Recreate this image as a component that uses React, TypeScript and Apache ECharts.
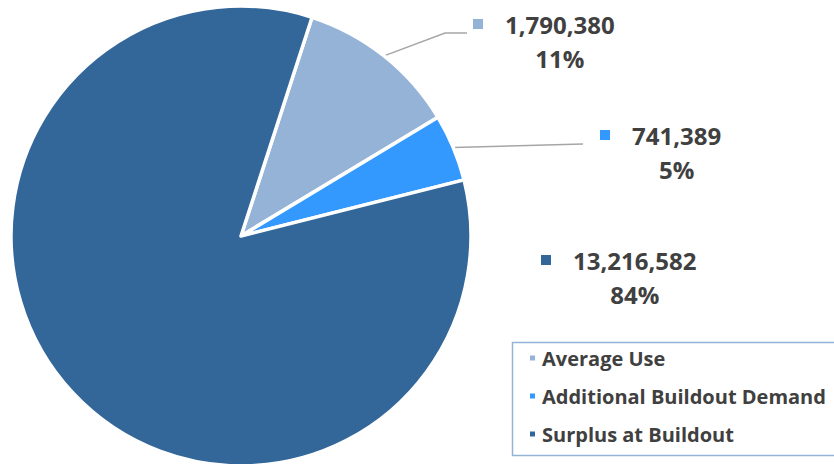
import React, { useEffect, useRef } from "react";
import * as echarts from "echarts";

const categories = ["Average Use", "Additional Buildout Demand", "Surplus at Buildout"];
const values = [1790380, 741389, 13216582];
const colors = ["#95B3D7", "#3399FF", "#336699"];

const FONT = '"Open Sans", "Noto Sans", sans-serif';
const TEXT = "#404040";

// label block placement (left / top of each label block) and leader-line ends
const labelPlacement = [
  { x: 473, y: 7, endDx: -6, endDy: 26, elbowDx: -22 },
  { x: 600, y: 118, endDx: -17, endDy: 26, elbowDx: 0 },
  { x: 541, y: 243, endDx: 0, endDy: 0, elbowDx: 0 },
];

export default function App() {
  const ref = useRef<HTMLDivElement>(null);
  useEffect(() => {
    if (!ref.current) return;
    const chart = echarts.init(ref.current, null, { renderer: "svg" });
    const rich: any = {
      s: { width: 22, align: "center" },
      s2: { width: 32, align: "center" },
      v: { fontSize: 24, fontWeight: "bold", color: TEXT, fontFamily: FONT, lineHeight: 34, align: "center" },
      p: { fontSize: 24, fontWeight: "bold", color: TEXT, fontFamily: FONT, lineHeight: 34, align: "center" },
    };
    colors.forEach((c, i) => {
      rich["m" + i] = { width: 10, height: 10, backgroundColor: c, align: "center" };
    });
    chart.setOption({
      animation: false,
      graphic: [
        {
          type: "rect",
          left: 510,
          top: 340,
          z: -1,
          shape: { width: 360, height: 113 },
          style: { fill: "none", stroke: "#95B3D7", lineWidth: 1.5 },
          silent: true,
        },
      ],
      legend: {
        orient: "vertical",
        left: 510,
        top: 340,
        data: categories,
        icon: "rect",
        itemWidth: 7,
        itemHeight: 7,
        itemGap: 18,
        padding: [8, 10, 8, 18],
        borderWidth: 0,
        selectedMode: false,
        textStyle: {
          fontFamily: FONT,
          fontSize: 20,
          fontWeight: "bold",
          color: TEXT,
          lineHeight: 20,
          padding: [0, 0, 0, 1],
        },
      },
      series: [
        {
          type: "pie",
          center: [241, 236],
          radius: 230,
          startAngle: 72,
          clockwise: true,
          avoidLabelOverlap: false,
          itemStyle: { borderColor: "#ffffff", borderWidth: 3.5 },
          label: {
            show: true,
            position: "outside",
            formatter: (p: any) =>
              `{m${p.dataIndex}|}{s|}{v|${p.value.toLocaleString("en-US")}}\n{s2|}{p|${Math.round(p.percent)}%}`,
            rich,
          },
          labelLine: {
            show: true,
            length: 20,
            length2: 20,
            lineStyle: { color: "#A6A6A6", width: 1.5 },
          },
          labelLayout: (params: any) => {
            const pl = labelPlacement[params.dataIndex];
            const out: any = { x: pl.x, y: pl.y, align: "left", verticalAlign: "top" };
            if (params.labelLinePoints && params.dataIndex < 2) {
              const p0 = params.labelLinePoints[0];
              const end = [pl.x + pl.endDx, pl.y + pl.endDy];
              out.labelLinePoints =
                pl.elbowDx !== 0
                  ? [p0, [end[0] + pl.elbowDx, end[1]], end]
                  : [p0, [(p0[0] + end[0]) / 2, (p0[1] + end[1]) / 2], end];
            }
            return out;
          },
          data: categories.map((name, i) => ({
            name,
            value: values[i],
            itemStyle: { color: colors[i] },
            labelLine: { show: i < 2 },
          })),
        },
      ],
    });
    return () => chart.dispose();
  }, []);
  return (
    <div
      ref={ref}
      style={{ position: "fixed", left: 0, top: 0, width: 834, height: 464, background: "#fff" }}
    />
  );
}
